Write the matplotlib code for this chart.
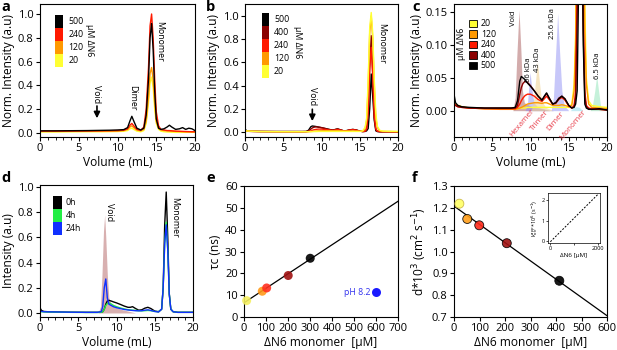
import matplotlib
matplotlib.use("Agg")
import matplotlib.pyplot as plt
from matplotlib.patches import Rectangle
from matplotlib.ticker import MultipleLocator
import numpy as np

plt.rcParams['font.family'] = ['Open Sans', 'DejaVu Sans']

# ---------------- data ----------------
# panel a
vol_a = [0, 2, 4, 6, 8, 9, 10, 10.8, 11.3, 11.6, 11.85, 12.1, 12.5, 13.0, 13.4, 13.7, 14.0, 14.2,
         14.4, 14.6, 14.8, 15.0, 15.3, 15.6, 16.0, 16.4, 16.7, 17.0, 17.5, 18.0, 18.4, 18.8, 19.2, 19.6, 20]
a_500 = [0.018, 0.018, 0.019, 0.02, 0.022, 0.023, 0.025, 0.028, 0.045, 0.10, 0.14, 0.10, 0.04, 0.025, 0.04,
         0.15, 0.45, 0.80, 0.92, 0.70, 0.35, 0.12, 0.04, 0.03, 0.035, 0.05, 0.065, 0.05, 0.03, 0.035, 0.045,
         0.03, 0.04, 0.035, 0.02]
a_240 = [0.015, 0.015, 0.016, 0.017, 0.018, 0.019, 0.02, 0.023, 0.035, 0.065, 0.08, 0.06, 0.03, 0.022, 0.05,
         0.2, 0.55, 0.9, 1.0, 0.8, 0.45, 0.18, 0.06, 0.03, 0.025, 0.02, 0.02, 0.018, 0.015, 0.014, 0.013,
         0.012, 0.011, 0.01, 0.01]
a_120 = [0.013, 0.013, 0.014, 0.015, 0.016, 0.016, 0.017, 0.02, 0.03, 0.05, 0.06, 0.045, 0.025, 0.018, 0.03,
         0.1, 0.3, 0.5, 0.55, 0.45, 0.25, 0.1, 0.04, 0.025, 0.02, 0.018, 0.016, 0.015, 0.013, 0.012, 0.011,
         0.01, 0.01, 0.009, 0.009]
a_20 = [0.008, 0.008, 0.009, 0.01, 0.01, 0.011, 0.012, 0.014, 0.02, 0.035, 0.04, 0.03, 0.015, 0.01, 0.02,
        0.08, 0.25, 0.42, 0.47, 0.38, 0.2, 0.08, 0.03, 0.015, 0.01, 0.008, 0.007, 0.006, 0.005, 0.005, 0.005,
        0.005, 0.005, 0.005, 0.005]
labels_a = ['500', '240', '120', '20']

# panels b and c (same chromatograms)
vol_bc = [0, 0.2, 0.5, 1, 2, 4, 6, 7.5, 8.0, 8.3, 8.6, 8.8, 9.0, 9.3, 9.6, 10.0, 10.5, 11.0, 11.5, 11.8,
          12.1, 12.5, 12.9, 13.3, 13.7, 14.1, 14.5, 15.0, 15.4, 15.7, 15.9, 16.1, 16.3, 16.5, 16.7, 16.9,
          17.1, 17.3, 17.6, 18, 19, 20]
bc_500 = [0.025, 0.012, 0.008, 0.006, 0.005, 0.004, 0.004, 0.004, 0.005, 0.015, 0.045, 0.052, 0.050, 0.047,
          0.042, 0.037, 0.030, 0.022, 0.016, 0.022, 0.027, 0.018, 0.010, 0.012, 0.018, 0.022, 0.018, 0.008,
          0.004, 0.005, 0.01, 0.03, 0.20, 0.50, 0.30, 0.10, 0.01, 0.004, 0.002, 0.002, 0.003, 0.001]
bc_400 = [0.01, 0.008, 0.006, 0.005, 0.004, 0.004, 0.004, 0.004, 0.004, 0.008, 0.025, 0.035, 0.041, 0.045,
          0.043, 0.038, 0.030, 0.022, 0.016, 0.021, 0.026, 0.018, 0.010, 0.012, 0.019, 0.022, 0.018, 0.008,
          0.004, 0.006, 0.02, 0.15, 0.55, 0.83, 0.5, 0.12, 0.02, 0.006, 0.003, 0.002, 0.002, 0.001]
bc_240 = [0.01, 0.008, 0.006, 0.005, 0.004, 0.003, 0.003, 0.003, 0.003, 0.005, 0.010, 0.015, 0.019, 0.023,
          0.025, 0.025, 0.022, 0.017, 0.014, 0.018, 0.022, 0.016, 0.010, 0.011, 0.017, 0.020, 0.016, 0.007,
          0.004, 0.008, 0.03, 0.18, 0.55, 0.73, 0.48, 0.14, 0.03, 0.008, 0.004, 0.003, 0.002, 0.001]
bc_120 = [0.012, 0.01, 0.008, 0.006, 0.004, 0.003, 0.002, 0.002, 0.002, 0.003, 0.004, 0.005, 0.006, 0.008,
          0.010, 0.011, 0.012, 0.012, 0.011, 0.012, 0.012, 0.010, 0.008, 0.008, 0.008, 0.009, 0.008, 0.006,
          0.008, 0.03, 0.10, 0.40, 0.85, 1.0, 0.8, 0.4, 0.12, 0.04, 0.01, 0.005, 0.004, 0.003]
bc_20 = [0.01, 0.009, 0.008, 0.006, 0.004, 0.003, 0.003, 0.003, 0.003, 0.003, 0.004, 0.004, 0.004, 0.004,
         0.005, 0.005, 0.005, 0.005, 0.005, 0.005, 0.005, 0.005, 0.005, 0.005, 0.005, 0.005, 0.005, 0.005,
         0.01, 0.04, 0.12, 0.45, 0.9, 1.03, 0.85, 0.45, 0.16, 0.05, 0.015, 0.008, 0.006, 0.005]
labels_bc = ['500', '400', '240', '120', '20']

# calibration standards (panel c)
std_void_x = [7.7, 8.0, 8.2, 8.5, 8.75, 8.95, 9.2, 9.8, 10.5, 11.5, 12.5]
std_void_y = [0, 0.02, 0.08, 0.153, 0.09, 0.03, 0.012, 0.008, 0.005, 0.003, 0]
std_66_x = [9.3, 9.6, 9.8, 9.95, 10.15, 10.45, 11.0, 12.0, 13.0]
std_66_y = [0, 0.01, 0.04, 0.058, 0.035, 0.012, 0.005, 0.002, 0]
std_43_x = [10.1, 10.4, 10.7, 10.9, 11.15, 11.45, 12.0, 13.0]
std_43_y = [0, 0.015, 0.05, 0.075, 0.045, 0.015, 0.005, 0]
std_25_x = [12.7, 13.0, 13.3, 13.55, 13.8, 14.1, 14.4, 15.0]
std_25_y = [0, 0.02, 0.09, 0.148, 0.09, 0.03, 0.008, 0]
std_13_x = [15.2, 15.6, 16.0, 16.4, 16.8]
std_13_y = [0, 0.005, 0.006, 0.005, 0]
std_6_x = [17.8, 18.1, 18.4, 18.65, 18.9, 19.15, 19.5]
std_6_y = [0, 0.008, 0.03, 0.053, 0.03, 0.008, 0]

# panel d
vol_d = [0, 0.2, 0.5, 1, 2, 4, 6, 7.5, 8.0, 8.2, 8.4, 8.6, 8.8, 9.0, 9.3, 9.6, 10.0, 10.5, 11.0, 11.5,
         11.8, 12.1, 12.5, 12.9, 13.3, 13.7, 14.1, 14.5, 15.0, 15.5, 15.9, 16.1, 16.3, 16.5, 16.7, 16.9,
         17.1, 17.4, 18, 19, 20]
d_0h = [0.04, 0.02, 0.012, 0.01, 0.008, 0.006, 0.005, 0.005, 0.006, 0.01, 0.03, 0.07, 0.095, 0.1, 0.095,
        0.088, 0.08, 0.068, 0.055, 0.045, 0.045, 0.05, 0.035, 0.022, 0.025, 0.038, 0.045, 0.035, 0.015,
        0.01, 0.03, 0.2, 0.7, 0.96, 0.6, 0.15, 0.03, 0.01, 0.005, 0.005, 0.005]
d_4h = [0.01, 0.01, 0.008, 0.008, 0.006, 0.005, 0.004, 0.004, 0.005, 0.01, 0.03, 0.06, 0.075, 0.08, 0.072,
        0.06, 0.05, 0.04, 0.032, 0.026, 0.024, 0.022, 0.02, 0.018, 0.017, 0.018, 0.02, 0.018, 0.012, 0.01,
        0.03, 0.2, 0.55, 0.72, 0.5, 0.15, 0.03, 0.01, 0.005, 0.005, 0.005]
d_24h = [0.015, 0.012, 0.01, 0.009, 0.008, 0.006, 0.005, 0.005, 0.01, 0.05, 0.2, 0.27, 0.12, 0.07, 0.06,
         0.05, 0.042, 0.035, 0.028, 0.024, 0.022, 0.02, 0.018, 0.017, 0.018, 0.022, 0.025, 0.02, 0.012,
         0.008, 0.03, 0.2, 0.55, 0.70, 0.5, 0.15, 0.03, 0.01, 0.005, 0.005, 0.005]
labels_d = ['0h', '4h', '24h']
d_void_x = [7.6, 7.9, 8.1, 8.3, 8.45, 8.6, 8.8, 9.0, 9.3, 9.8, 10.5, 11.5, 12.5]
d_void_y = [0, 0.05, 0.3, 0.65, 0.78, 0.6, 0.3, 0.12, 0.07, 0.05, 0.03, 0.015, 0.0]

# panel e
e_conc = [12, 83, 103, 201, 301]
e_tau = [7.5, 11.8, 13.3, 19.0, 26.9]
e_ph_conc = [600]
e_ph_tau = [11.5]
e_fit_x = [0, 700]
e_fit_y = [6.5, 53]

# panel f
f_conc = [21, 52, 99, 207, 413]
f_d = [1.219, 1.149, 1.12, 1.038, 0.866]
f_fit_x = [0, 600]
f_fit_y = [1.208, 0.706]
fin_x = [0, 2000]
fin_y = [-0.02, 2.25]

# ---------------- styling ----------------
c5 = ['#000000', '#8b0000', '#ff1a00', '#ff9900', '#ffff33']
col_a = ['#000000', '#ff1a00', '#ff9900', '#ffff33']
col_d = ['#000000', '#22ee44', '#1030ff']
W, H = 617, 350
fig = plt.figure(figsize=(W / 100, H / 100), dpi=100)


def px_axes(l, t, r, b):
    return fig.add_axes([l / W, 1 - b / H, (r - l) / W, (b - t) / H])


TICK = 8
LAB = 8.6
SMALL = 6.3


def style(ax, xmaj=None, xmin=None):
    ax.tick_params(direction='out', length=3, width=0.8, labelsize=TICK, pad=1.5)
    ax.tick_params(which='minor', direction='out', length=1.8, width=0.6)
    for s in ax.spines.values():
        s.set_linewidth(0.8)
    if xmaj:
        ax.xaxis.set_major_locator(MultipleLocator(xmaj))
    if xmin:
        ax.xaxis.set_minor_locator(MultipleLocator(xmin))


def stack_legend(ax, x0, ytop, w, h, cols, labs, txt_dx=0.035):
    for i, (c, l) in enumerate(zip(cols, labs)):
        y = ytop - (i + 1) * h
        ax.add_patch(Rectangle((x0, y), w, h, transform=ax.transAxes, facecolor=c,
                               edgecolor='none', clip_on=False, zorder=5))
        ax.text(x0 + w + txt_dx, y + h / 2, l, transform=ax.transAxes, fontsize=SMALL,
                va='center', ha='left', zorder=5)


# ---------- a ----------
ax = px_axes(40, 4, 195, 137)
for y, c in zip([a_20, a_120, a_240, a_500], col_a[::-1]):
    ax.plot(vol_a, y, color=c, lw=1.0)
ax.set_xlim(0, 20)
ax.set_ylim(-0.034, 1.084)
ax.set_yticks([0, 0.2, 0.4, 0.6, 0.8, 1.0])
style(ax, 5, 1)
ax.set_xlabel('Volume (mL)', fontsize=LAB, labelpad=1)
ax.set_ylabel('Norm. Intensity (a.u)', fontsize=LAB, labelpad=2)
stack_legend(ax, 0.097, 0.915, 0.052, 0.097, col_a, labels_a)
ax.text(0.32, 0.73, 'µM ΔN6', transform=ax.transAxes, rotation=270, fontsize=SMALL,
        ha='center', va='center')
ax.annotate('', xy=(7.35, 0.1), xytext=(7.35, 0.25),
            arrowprops=dict(arrowstyle='-|>', color='black', lw=1.2, mutation_scale=9))
ax.text(7.35, 0.33, 'Void', rotation=270, fontsize=SMALL, ha='center', va='center')
ax.text(11.9, 0.3, 'Dimer', rotation=270, fontsize=SMALL, ha='center', va='center')
ax.text(15.4, 0.77, 'Monomer', rotation=270, fontsize=SMALL, ha='center', va='center')

# ---------- b ----------
ax = px_axes(245, 4, 398, 137)
for y, c in zip([bc_500, bc_400, bc_240, bc_120, bc_20], c5):
    ax.plot(vol_bc, y, color=c, lw=1.0)
ax.set_xlim(0, 20)
ax.set_ylim(-0.043, 1.103)
ax.set_yticks([0, 0.2, 0.4, 0.6, 0.8, 1.0])
style(ax, 5, 1)
ax.set_ylabel('Norm. Intensity (a.u)', fontsize=LAB, labelpad=2)
stack_legend(ax, 0.11, 0.93, 0.045, 0.098, c5, labels_bc)
ax.text(0.34, 0.71, 'µM ΔN6', transform=ax.transAxes, rotation=270, fontsize=SMALL,
        ha='center', va='center')
ax.annotate('', xy=(8.8, 0.07), xytext=(8.8, 0.22),
            arrowprops=dict(arrowstyle='-|>', color='black', lw=1.2, mutation_scale=9))
ax.text(8.8, 0.31, 'Void', rotation=270, fontsize=SMALL, ha='center', va='center')
ax.text(17.8, 0.76, 'Monomer', rotation=270, fontsize=SMALL, ha='center', va='center')

# ---------- c ----------
ax = px_axes(454, 4, 607, 137)
ax.fill_between(std_void_x, std_void_y, color='#b06868', alpha=0.55, lw=0)
ax.fill_between(std_66_x, std_66_y, color='#8c8cf0', alpha=0.5, lw=0)
ax.fill_between(std_43_x, std_43_y, color='#f0d49a', alpha=0.6, lw=0)
ax.fill_between(std_25_x, std_25_y, color='#9a9af5', alpha=0.55, lw=0)
ax.fill_between(std_13_x, std_13_y, color='#9ee0ee', alpha=0.6, lw=0)
ax.fill_between(std_6_x, std_6_y, color='#9fe8c2', alpha=0.6, lw=0)
for y, c in zip([bc_20, bc_120, bc_240, bc_400, bc_500], c5[::-1]):
    ax.plot(vol_bc, y, color=c, lw=1.0)
ax.set_xlim(0, 20)
ax.set_ylim(-0.04, 0.162)
ax.set_yticks([0, 0.05, 0.10, 0.15])
ax.set_yticklabels(['0.00', '0.05', '0.10', '0.15'])
style(ax, 5, 1)
ax.set_xlabel('Volume (mL)', fontsize=LAB, labelpad=1)
ax.set_ylabel('Norm. Intensity (a.u)', fontsize=LAB, labelpad=2)
for i, (c, l) in enumerate(zip(c5[::-1], labels_bc[::-1])):
    yb = 0.827 - i * 0.079
    ax.add_patch(Rectangle((0.095, yb), 0.058, 0.053, transform=ax.transAxes, facecolor=c,
                           edgecolor='black', lw=0.6, zorder=5))
    ax.text(0.175, yb + 0.026, l, transform=ax.transAxes, fontsize=SMALL, va='center', zorder=5)
ax.text(0.05, 0.70, 'µM ΔN6', transform=ax.transAxes, rotation=90, fontsize=SMALL,
        ha='center', va='center')
for (x, y, t) in [(7.75, 0.141, 'Void'), (9.8, 0.062, '66 kDa'), (10.85, 0.078, '43 kDa'),
                  (12.85, 0.132, '25.6 kDa'), (18.7, 0.068, '6.5 kDa')]:
    ax.text(x, y, t, rotation=90, fontsize=5.5, ha='center', va='center')
red_txt = '#e8404c'
for (x, y, t) in [(8.9, -0.019, 'Hexamer'), (11.25, -0.015, 'Trimer'),
                  (13.2, -0.016, 'Dimer'), (15.6, -0.021, 'Monomer')]:
    ax.text(x, y, t, rotation=50, fontsize=5.8, color=red_txt, ha='center', va='center')

# ---------- d ----------
ax = px_axes(40, 185, 193, 317)
ax.fill_between(d_void_x, d_void_y, color='#b87070', alpha=0.55, lw=0)
for y, c in zip([d_0h, d_4h, d_24h], col_d):
    ax.plot(vol_d, y, color=c, lw=1.0)
ax.set_xlim(0, 20)
ax.set_ylim(-0.032, 1.016)
ax.set_yticks([0, 0.2, 0.4, 0.6, 0.8, 1.0])
style(ax, 5, 1)
ax.set_xlabel('Volume (mL)', fontsize=LAB, labelpad=1)
ax.set_ylabel('Intensity (a.u)', fontsize=LAB, labelpad=2)
stack_legend(ax, 0.085, 0.917, 0.058, 0.0985, col_d, labels_d, txt_dx=0.025)
ax.text(9.15, 0.8, 'Void', rotation=270, fontsize=SMALL, ha='center', va='center')
ax.text(17.6, 0.76, 'Monomer', rotation=270, fontsize=SMALL, ha='center', va='center')

# ---------- e ----------
ax = px_axes(244, 186, 398, 317)
ax.plot(e_fit_x, e_fit_y, color='black', lw=0.9, zorder=2)
ax.scatter(e_conc, e_tau, s=42, c=['#f4ef60', '#ff9a1a', '#ff3020', '#a01212', '#000000'],
           alpha=0.9, lw=0, zorder=3, clip_on=False)
ax.scatter(e_ph_conc, e_ph_tau, s=42, c='#1a1aff', lw=0, zorder=3)
ax.text(515, 11.3, 'pH 8.2', color='#3333ee', fontsize=SMALL, ha='center', va='center')
ax.set_xlim(0, 700)
ax.set_ylim(0, 60)
ax.xaxis.set_major_locator(MultipleLocator(100))
ax.yaxis.set_major_locator(MultipleLocator(10))
style(ax)
ax.set_xlabel('ΔN6 monomer  [µM]', fontsize=LAB, labelpad=1)
ax.set_ylabel('τc (ns)', fontsize=LAB, labelpad=2)

# ---------- f ----------
ax = px_axes(454, 186, 607, 317)
ax.plot(f_fit_x, f_fit_y, color='black', lw=0.9, zorder=2)
ax.scatter(f_conc, f_d, s=42, c=['#ffff66', '#ff9f1a', '#ff2a1a', '#a01212', '#000000'],
           edgecolors=['#c8b440', 'none', 'none', 'none', 'none'], linewidths=0.6, alpha=0.9,
           zorder=3, clip_on=False)
ax.set_xlim(0, 600)
ax.set_ylim(0.7, 1.3)
ax.xaxis.set_major_locator(MultipleLocator(100))
ax.yaxis.set_major_locator(MultipleLocator(0.1))
style(ax)
ax.set_xlabel('ΔN6 monomer  [µM]', fontsize=LAB, labelpad=1)
ax.set_ylabel('d*10$^3$ (cm$^2$ s$^{-1}$)', fontsize=LAB, labelpad=2)

axi = px_axes(548, 193, 600, 243)
axi.plot(fin_x, fin_y, color='black', lw=0.7, ls=(0, (2, 1.5)))
axi.set_xlim(-100, 2100)
axi.set_ylim(-0.08, 2.33)
axi.set_xticks([0, 1000, 2000])
axi.set_xticklabels(['0', '', '2000'])
axi.set_yticks([0, 1, 2])
axi.tick_params(direction='out', length=1.5, width=0.5, labelsize=4, pad=1)
for s in axi.spines.values():
    s.set_linewidth(0.5)
axi.set_xlabel('ΔN6 [µM]', fontsize=4.5, labelpad=1)
axi.set_ylabel('k$_{on}^{app}$*10$^6$ (s$^{-1}$)', fontsize=4, labelpad=1)

# panel letters
for (x, y, t) in [(1, 0, 'a'), (206, 0, 'b'), (412, 0, 'c'), (1, 171, 'd'), (206, 171, 'e'),
                  (412, 171, 'f')]:
    fig.text(x / W, 1 - y / H, t, fontsize=10.5, fontweight='bold', ha='left', va='top')

fig.savefig('out.png', dpi=100)
